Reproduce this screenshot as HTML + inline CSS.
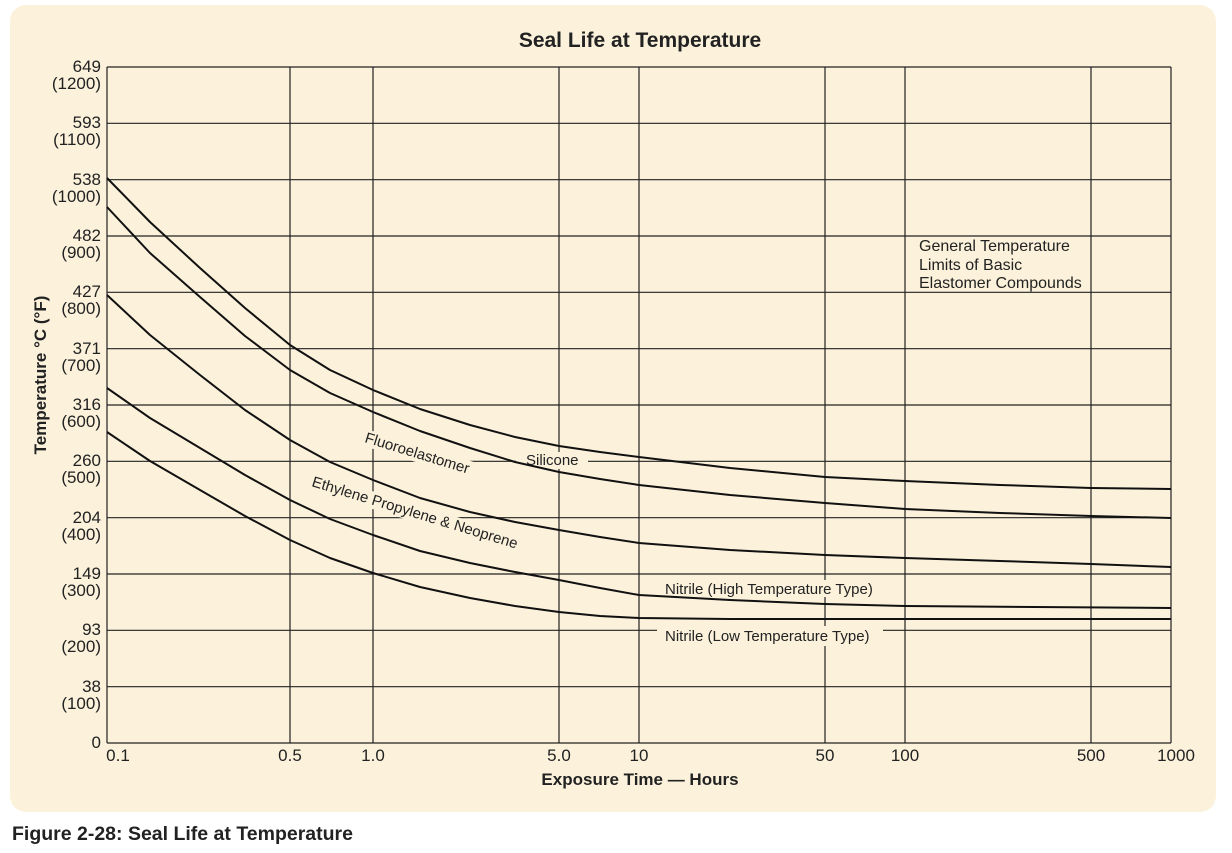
<!DOCTYPE html>
<html><head><meta charset="utf-8"><style>
body{margin:0;background:#fff;width:1232px;height:848px;overflow:hidden;font-family:"Liberation Sans",sans-serif}
</style></head><body>
<svg width="1232" height="848" xmlns="http://www.w3.org/2000/svg" font-family="Liberation Sans, sans-serif">
<rect x="10" y="5" width="1206" height="807" rx="16" fill="#fcf2dc"/>
<text x="640" y="47" font-size="21" font-weight="bold" text-anchor="middle" fill="#222">Seal Life at Temperature</text>
<g stroke="#222" stroke-width="1.2" fill="none">
<line x1="107" y1="67" x2="107" y2="743"/><line x1="290" y1="67" x2="290" y2="743"/><line x1="373" y1="67" x2="373" y2="743"/>
<line x1="559" y1="67" x2="559" y2="743"/><line x1="639" y1="67" x2="639" y2="743"/><line x1="825" y1="67" x2="825" y2="743"/>
<line x1="905" y1="67" x2="905" y2="743"/><line x1="1091" y1="67" x2="1091" y2="743"/><line x1="1171" y1="67" x2="1171" y2="743"/>
<line x1="107" y1="67" x2="1171" y2="67"/><line x1="107" y1="123.3" x2="1171" y2="123.3"/><line x1="107" y1="179.7" x2="1171" y2="179.7"/>
<line x1="107" y1="236" x2="1171" y2="236"/><line x1="107" y1="292.3" x2="1171" y2="292.3"/><line x1="107" y1="348.7" x2="1171" y2="348.7"/>
<line x1="107" y1="405" x2="1171" y2="405"/><line x1="107" y1="461.3" x2="1171" y2="461.3"/><line x1="107" y1="517.7" x2="1171" y2="517.7"/>
<line x1="107" y1="574" x2="1171" y2="574"/><line x1="107" y1="630.3" x2="1171" y2="630.3"/><line x1="107" y1="686.7" x2="1171" y2="686.7"/>
<line x1="107" y1="743" x2="1171" y2="743"/>
</g>
<g font-size="17" fill="#222" text-anchor="end">
<text x="101" y="72">649</text><text x="101" y="89">(1200)</text>
<text x="101" y="128">593</text><text x="101" y="145">(1100)</text>
<text x="101" y="185">538</text><text x="101" y="202">(1000)</text>
<text x="101" y="241">482</text><text x="101" y="258">(900)</text>
<text x="101" y="297">427</text><text x="101" y="314">(800)</text>
<text x="101" y="354">371</text><text x="101" y="371">(700)</text>
<text x="101" y="410">316</text><text x="101" y="427">(600)</text>
<text x="101" y="466">260</text><text x="101" y="483">(500)</text>
<text x="101" y="523">204</text><text x="101" y="540">(400)</text>
<text x="101" y="579">149</text><text x="101" y="596">(300)</text>
<text x="101" y="635">93</text><text x="101" y="652">(200)</text>
<text x="101" y="692">38</text><text x="101" y="709">(100)</text>
<text x="101" y="748">0</text>
</g>
<g font-size="17" fill="#222" text-anchor="middle">
<text x="118" y="761">0.1</text><text x="290" y="761">0.5</text><text x="373" y="761">1.0</text>
<text x="559" y="761">5.0</text><text x="639" y="761">10</text><text x="825" y="761">50</text>
<text x="905" y="761">100</text><text x="1091" y="761">500</text><text x="1176" y="761">1000</text>
</g>
<text x="640" y="785" font-size="17" font-weight="bold" text-anchor="middle" fill="#222">Exposure Time — Hours</text>
<text transform="translate(46,375) rotate(-90)" font-size="17" font-weight="bold" text-anchor="middle" fill="#222">Temperature °C (°F)</text>
<g font-size="16" fill="#222"><text x="919" y="251">General Temperature</text><text x="919" y="270">Limits of Basic</text><text x="919" y="288">Elastomer Compounds</text></g>
<g font-size="15" fill="#222">
<rect x="516" y="452" width="72" height="17" fill="#fcf2dc"/><text x="526" y="465">Silicone</text>
<rect x="657" y="580" width="226" height="17" fill="#fcf2dc"/><text x="665" y="594">Nitrile (High Temperature Type)</text>
<rect x="657" y="626" width="226" height="20" fill="#fcf2dc"/><text x="665" y="641">Nitrile (Low Temperature Type)</text>
<g transform="translate(364,442) rotate(17)"><rect x="-4" y="-13" width="115" height="17" fill="#fcf2dc"/><text x="0" y="0">Fluoroelastomer</text></g>
<g transform="translate(311,486) rotate(17)"><rect x="-4" y="-13" width="222" height="17" fill="#fcf2dc"/><text x="0" y="0">Ethylene Propylene &amp; Neoprene</text></g>
</g>
<g stroke="#111" stroke-width="2" fill="none" stroke-linejoin="round">
<polyline points="107,178 150,222 200,268 245,308 290,345 330,370 373,390 420,409 470,425 515,437 559,446 600,452 639,457 730,468 825,477 905,481 1000,485 1091,488 1171,489"/>
<polyline points="107,207 150,253 200,297 245,336 290,370 330,393 373,412 420,431 470,448 515,462 559,472 600,479 639,485 730,495 825,503 905,509 1000,513 1091,516 1171,518"/>
<polyline points="107,295 150,335 200,375 245,410 290,440 330,462 373,480 420,498 470,512 515,522 559,530 600,537 639,543 730,550 825,555 905,558 1000,561 1091,564 1171,567"/>
<polyline points="107,388 150,418 200,448 245,475 290,500 330,519 373,535 420,551 470,563 515,572 559,580 600,588 639,595 730,600 825,604 905,606 1171,608"/>
<polyline points="107,432 150,461 200,490 245,516 290,540 330,558 373,573 420,587 470,598 515,606 559,612 600,616 639,618 730,619 1171,619"/>
</g>
<text x="12" y="840" font-size="19.5" font-weight="bold" fill="#222">Figure 2-28: Seal Life at Temperature</text>
</svg>
</body></html>
